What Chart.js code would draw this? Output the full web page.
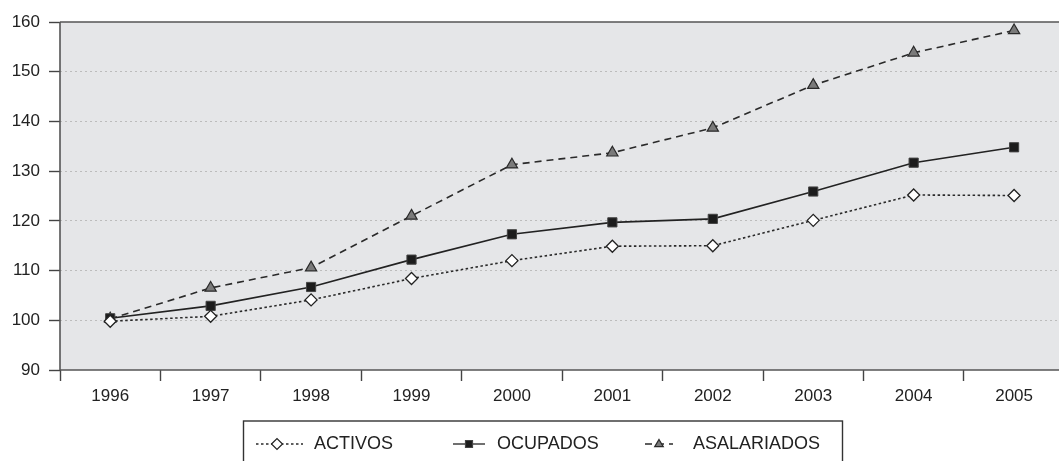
<!DOCTYPE html>
<html>
<head>
<meta charset="utf-8">
<script src="https://cdn.jsdelivr.net/npm/chart.js@4/dist/chart.umd.min.js"></script>
<style>
  html, body { margin: 0; padding: 0; background: #ffffff; overflow: hidden; }
  #wrap { width: 1072px; height: 461px; position: relative; }
</style>
</head>
<body>
<div id="wrap"><canvas id="c" width="1072" height="461"></canvas></div>
<script>
const years = ['1996','1997','1998','1999','2000','2001','2002','2003','2004','2005'];
const activos = [99.8, 100.8, 104.1, 108.4, 112.0, 114.9, 115.0, 120.1, 125.2, 125.1];
const ocupados = [100.4, 102.9, 106.7, 112.2, 117.3, 119.7, 120.4, 125.9, 131.7, 134.8];
const asalariados = [100.3, 106.5, 110.6, 121.0, 131.3, 133.7, 138.7, 147.3, 153.8, 158.3];
const seriesNames = ['ACTIVOS', 'OCUPADOS', 'ASALARIADOS'];
const yTicks = [90, 100, 110, 120, 130, 140, 150, 160];

const FONT = "'Liberation Sans', Arial, Helvetica, sans-serif";
const INK = '#222222';

const frame = {
  id: 'frame',
  beforeDraw(chart) {
    const {ctx, chartArea: a} = chart;
    ctx.save();
    ctx.fillStyle = '#e5e6e8';
    ctx.fillRect(a.left, a.top, a.right - a.left, a.bottom - a.top);
    ctx.restore();
  },
  beforeDatasetsDraw(chart) {
    const {ctx, chartArea: a} = chart;
    ctx.save();
    ctx.strokeStyle = '#555555';
    ctx.lineWidth = 1.6;
    ctx.beginPath();
    ctx.moveTo(a.left, a.top); ctx.lineTo(a.right, a.top);
    ctx.moveTo(a.left, a.top); ctx.lineTo(a.left, a.bottom);
    ctx.moveTo(a.left, a.bottom); ctx.lineTo(a.right, a.bottom);
    ctx.stroke();
    ctx.restore();
  }
};

function marker(ctx, style, x, y, r, fill, stroke) {
  ctx.save();
  ctx.setLineDash([]);
  ctx.fillStyle = fill; ctx.strokeStyle = stroke; ctx.lineWidth = 1.2;
  ctx.beginPath();
  if (style === 'rectRot') {
    ctx.moveTo(x - r, y); ctx.lineTo(x, y - r); ctx.lineTo(x + r, y); ctx.lineTo(x, y + r); ctx.closePath();
  } else if (style === 'rect') {
    ctx.rect(x - r, y - r, 2 * r, 2 * r);
  } else {
    ctx.moveTo(x, y - r); ctx.lineTo(x + r * 0.95, y + r * 0.6); ctx.lineTo(x - r * 0.95, y + r * 0.6); ctx.closePath();
  }
  ctx.fill(); ctx.stroke();
  ctx.restore();
}

const boxLegend = {
  id: 'boxLegend',
  afterDraw(chart) {
    const ctx = chart.ctx;
    const left = 243.5, top = 421, right = 842.5, bottom = 475;
    ctx.save();
    ctx.strokeStyle = '#333333';
    ctx.lineWidth = 1.4;
    ctx.strokeRect(left, top, right - left, bottom - top);
    const items = [
      {x0: 256, x1: 303, mx: 277, tx: 314, r: 5.5, style: 'rectRot'},
      {x0: 453, x1: 485, mx: 469, tx: 497, r: 3.5, style: 'rect'},
      {x0: 645, x1: 673, mx: 659, tx: 693, r: 4.5, style: 'triangle'}
    ];
    const y = 444;
    items.forEach((it, i) => {
      const ds = chart.data.datasets[i];
      ctx.save();
      ctx.strokeStyle = ds.borderColor;
      ctx.lineWidth = 1.3;
      ctx.setLineDash(ds.borderDash || []);
      ctx.beginPath(); ctx.moveTo(it.x0, y); ctx.lineTo(it.x1, y); ctx.stroke();
      ctx.restore();
      marker(ctx, it.style, it.mx, y, it.r, ds.pointBackgroundColor, ds.pointBorderColor);
      ctx.fillStyle = INK;
      ctx.font = '18px ' + FONT;
      ctx.textBaseline = 'middle';
      ctx.textAlign = 'left';
      ctx.fillText(ds.label, it.tx, y);
    });
    ctx.restore();
  }
};

new Chart(document.getElementById('c'), {
  type: 'line',
  data: {
    labels: years,
    datasets: [
      {
        label: seriesNames[0], data: activos,
        borderColor: '#2a2a2a', borderWidth: 1.6, borderDash: [2.5, 2.5],
        pointStyle: 'rectRot', pointRadius: 6,
        pointBackgroundColor: '#ffffff', pointBorderColor: '#222222', pointBorderWidth: 1.3,
        tension: 0
      },
      {
        label: seriesNames[1], data: ocupados,
        borderColor: '#222222', borderWidth: 1.6, borderDash: [],
        pointStyle: 'rect', pointRadius: 6.5,
        pointBackgroundColor: '#1c1c1c', pointBorderColor: '#444444', pointBorderWidth: 1,
        tension: 0
      },
      {
        label: seriesNames[2], data: asalariados,
        borderColor: '#2a2a2a', borderWidth: 1.6, borderDash: [7, 5],
        pointStyle: 'triangle', pointRadius: 6.5,
        pointBackgroundColor: '#7a7a7a', pointBorderColor: '#2a2a2a', pointBorderWidth: 1.2,
        tension: 0
      }
    ]
  },
  options: {
    responsive: false,
    animation: false,
    events: [],
    layout: { padding: { left: 0, top: 22, right: 1, bottom: 0 } },
    plugins: { legend: { display: false }, tooltip: { enabled: false } },
    scales: {
      x: {
        type: 'category',
        offset: true,
        afterFit(s) { s.height = 91; },
        grid: { offset: true, drawOnChartArea: false, drawTicks: true, tickLength: 11, tickColor: '#444444', tickWidth: 1.4, color: '#444444' },
        border: { display: false },
        ticks: { color: INK, font: { family: FONT, size: 17 }, padding: 5, maxRotation: 0, autoSkip: false }
      },
      y: {
        min: 90, max: 160,
        afterFit(s) { s.width = 60; },
        afterBuildTicks(s) { s.ticks = yTicks.map(v => ({value: v})); },
        grid: {
          color: (c) => (c.tick && (c.tick.value === 90 || c.tick.value === 160)) ? 'rgba(0,0,0,0)' : '#bcbcbc',
          lineWidth: 1, tickLength: 11, tickColor: '#444444', tickWidth: 1.4
        },
        border: { display: false, dash: [2, 3] },
        ticks: { color: INK, font: { family: FONT, size: 17 }, padding: 9, stepSize: 10 }
      }
    }
  },
  plugins: [frame, boxLegend]
});
</script>
</body>
</html>
